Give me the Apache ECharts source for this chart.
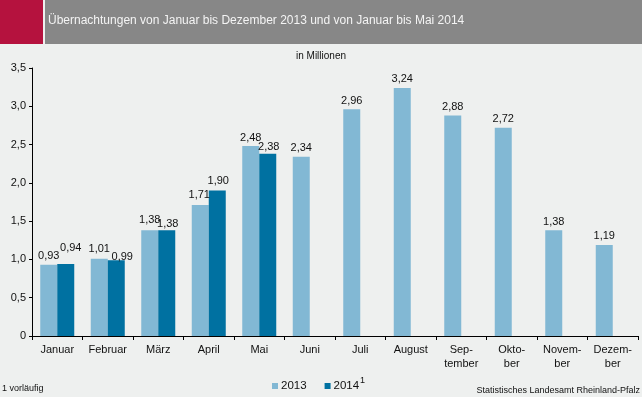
<!DOCTYPE html>
<html lang="de">
<head>
<meta charset="UTF-8">
<script src="https://cdn.jsdelivr.net/npm/echarts@6/dist/echarts.min.js"></script>
<style>
  html, body { margin: 0; padding: 0; background: #eef0ef; overflow: hidden; }
  #chart { width: 642px; height: 397px; }
</style>
</head>
<body>
<div id="chart"></div>
<script>
// Daten
var months = ['Januar', 'Februar', 'März', 'April', 'Mai', 'Juni', 'Juli', 'August',
  'Sep-\ntember', 'Okto-\nber', 'Novem-\nber', 'Dezem-\nber'];
var values2013 = [0.93, 1.01, 1.38, 1.71, 2.48, 2.34, 2.96, 3.24, 2.88, 2.72, 1.38, 1.19];
var values2014 = [0.94, 0.99, 1.38, 1.90, 2.38, null, null, null, null, null, null, null];
var yTicks = [0, 0.5, 1, 1.5, 2, 2.5, 3, 3.5];

// Beschriftungen leicht verschoben, damit sie sich nicht überlappen (wie im Original)
var offsets2013 = { 1: [0, -1], 2: [0, -2], 3: [-1, -2] };
var offsets2014 = { 0: [5, -8], 1: [6, 5], 2: [1, 2], 3: [1, -1], 4: [1, 2] };

var FONT = '"Liberation Sans", Arial, sans-serif';
function komma(v, d) { return v === 0 ? '0' : v.toFixed(d).replace('.', ','); }

function mitOffsets(values, offs) {
  return values.map(function (v, i) {
    if (v == null || !offs[i]) return v;
    return { value: v, label: { offset: offs[i] } };
  });
}

var chart = echarts.init(document.getElementById('chart'));
chart.setOption({
  backgroundColor: '#eef0ef',
  animation: false,
  textStyle: { fontFamily: FONT },
  grid: { left: 32, right: 4, top: 68, bottom: 61 },
  graphic: [
    { type: 'rect', shape: { x: 0, y: 0, width: 43, height: 44 }, style: { fill: '#b5123e' } },
    { type: 'rect', shape: { x: 45, y: 0, width: 597, height: 44 }, style: { fill: '#878787' } },
    { type: 'text', left: 48, top: 15,
      style: { text: 'Übernachtungen von Januar bis Dezember 2013 und von Januar bis Mai 2014',
        fill: '#f4f4f4', font: '12px ' + FONT } },
    { type: 'text', left: 'center', top: 51,
      style: { text: 'in Millionen', fill: '#111', font: '10px ' + FONT } },
    { type: 'text', left: 2, top: 384,
      style: { text: '1 vorläufig', fill: '#111', font: '9px ' + FONT } },
    { type: 'text', right: 2, top: 386,
      style: { text: 'Statistisches Landesamt Rheinland-Pfalz', fill: '#111', font: '9px ' + FONT } },
    { type: 'text', left: 360, top: 376,
      style: { text: '1', fill: '#111', font: '9px ' + FONT } }
  ],
  legend: {
    top: 380, left: 272, padding: 0,
    itemWidth: 6, itemHeight: 6, itemGap: 18,
    icon: 'rect',
    textStyle: { fontSize: 11.5, color: '#111', padding: [0, 0, 0, -2] },
    data: ['2013', '2014']
  },
  xAxis: {
    type: 'category',
    data: months,
    axisLine: { lineStyle: { color: '#000', width: 1 } },
    axisTick: { show: true, length: 4, lineStyle: { color: '#000' } },
    axisLabel: { color: '#111', fontSize: 11, lineHeight: 14, margin: 7 }
  },
  yAxis: {
    type: 'value',
    min: 0, max: 3.5, interval: 0.5,
    splitLine: { show: false },
    axisLine: { show: true, lineStyle: { color: '#000' } },
    axisTick: { show: true, length: 3, lineStyle: { color: '#000' } },
    axisLabel: { color: '#111', fontSize: 11, margin: 6,
      formatter: function (v) { return yTicks.indexOf(v) >= 0 ? komma(v, 1) : ''; } }
  },
  series: [
    {
      name: '2013', type: 'bar', data: mitOffsets(values2013, offsets2013),
      barWidth: 17, barGap: '0%',
      itemStyle: { color: '#82b8d4' },
      label: { show: true, position: 'top', distance: 3, color: '#111', fontSize: 11,
        formatter: function (p) { return komma(p.value, 2); } }
    },
    {
      name: '2014', type: 'bar', data: mitOffsets(values2014, offsets2014),
      barWidth: 17, barGap: '0%',
      itemStyle: { color: '#0071a1' },
      label: { show: true, position: 'top', distance: 3, color: '#111', fontSize: 11,
        formatter: function (p) { return p.value == null ? '' : komma(p.value, 2); } }
    }
  ]
});
</script>
</body>
</html>
